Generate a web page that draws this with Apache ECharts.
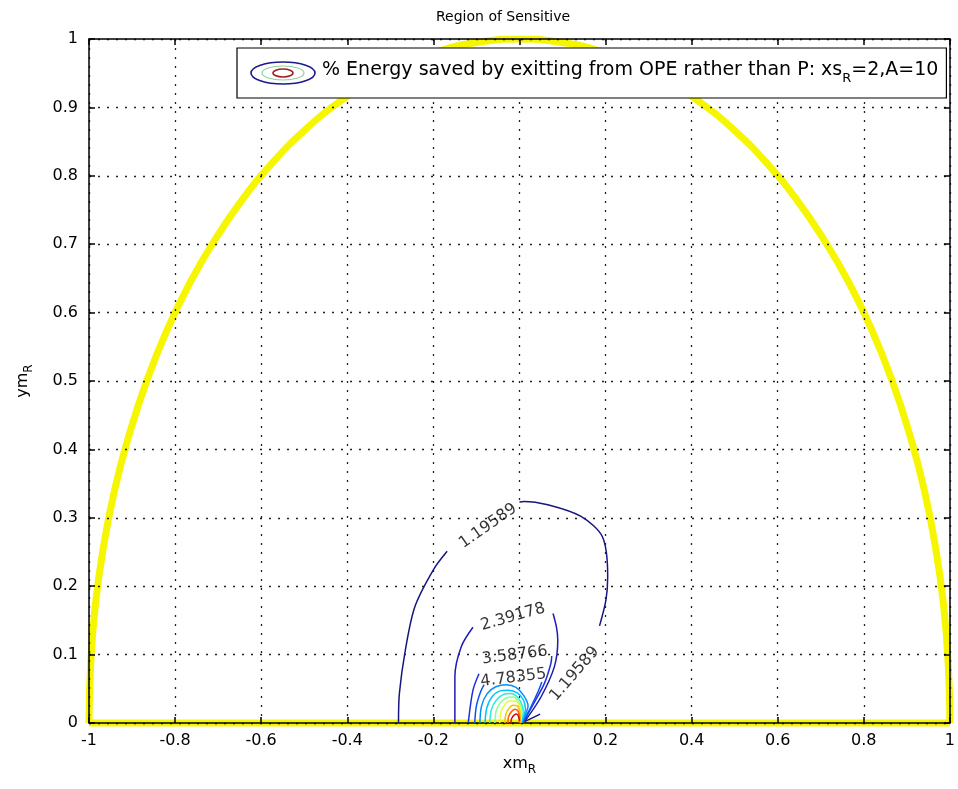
<!DOCTYPE html>
<html><head><meta charset="utf-8">
<script src="https://cdn.jsdelivr.net/npm/echarts@6/dist/echarts.min.js"></script>
<style>html,body{margin:0;padding:0;background:#fff}#c{width:958px;height:789px}</style>
</head><body><div id="c"></div>
<script>
const titleText = 'Region of Sensitive';
const xTickValues = [-1, -0.8, -0.6, -0.4, -0.2, 0, 0.2, 0.4, 0.6, 0.8, 1];
const yTickValues = [0, 0.1, 0.2, 0.3, 0.4, 0.5, 0.6, 0.7, 0.8, 0.9, 1];

// yellow boundary of the region
const boundaryArc = [[-1,0],[-0.996,0.087],[-0.985,0.174],[-0.966,0.259],[-0.940,0.342],[-0.906,0.423],[-0.866,0.5],[-0.819,0.574],[-0.766,0.643],[-0.707,0.707],[-0.643,0.766],[-0.574,0.819],[-0.5,0.866],[-0.423,0.906],[-0.342,0.940],[-0.259,0.966],[-0.174,0.985],[-0.087,0.996],[0,1],[0.087,0.996],[0.174,0.985],[0.259,0.966],[0.342,0.940],[0.423,0.906],[0.5,0.866],[0.574,0.819],[0.643,0.766],[0.707,0.707],[0.766,0.643],[0.819,0.574],[0.866,0.5],[0.906,0.423],[0.940,0.342],[0.966,0.259],[0.985,0.174],[0.996,0.087],[1,0]];
const boundaryBase = [[-1,0],[1,0]];

// contour levels
const contourLevels = [1.19589, 2.39178, 3.58766, 4.78355, 5.97944, 7.17533, 8.37122, 9.56711, 10.763, 11.9589, 13.1548, 14.3507];
const contourColors = ['#16167f','#1c1cb0','#2030d8','#0a55f0','#0090ff','#00c4ff','#30ecd8','#90ff90','#e4ff40','#ffc000','#ff6000','#d81000'];

// contour segments for each level (gaps where labels sit)
const contour1 = [
  [[-0.281,0.0],[-0.279,0.043],[-0.265,0.107],[-0.243,0.170],[-0.200,0.224],[-0.168,0.251]],
  [[0.000,0.323],[0.010,0.324],[0.066,0.319],[0.143,0.302],[0.193,0.272],[0.205,0.214],[0.201,0.180],[0.186,0.142]],
  [[0.048,0.013],[0.012,0.002]]
];
const contour2 = [
  [[-0.150,0.0],[-0.150,0.068],[-0.135,0.112],[-0.108,0.140]],
  [[0.078,0.160],[0.086,0.140],[0.089,0.121],[0.081,0.082],[0.050,0.038],[0.012,0.002]]
];
const contour3 = [
  [[-0.119,0.0],[-0.108,0.048],[-0.094,0.072]],
  [[0.075,0.098],[0.073,0.087],[0.058,0.058],[0.030,0.025],[0.010,0.002]]
];
const contour4 = [
  [[-0.104,0.0],[-0.100,0.025],[-0.090,0.046],[-0.082,0.056]],
  [[0.052,0.060],[0.042,0.044],[0.024,0.020],[0.008,0.002]]
];
const contour5 = [[[-0.092,0.0],[-0.088,0.025],[-0.075,0.043],[-0.055,0.053],[-0.030,0.056],[-0.008,0.052],[0.010,0.040],[0.020,0.025],[0.012,0.010],[0.006,0.0]]];
const contour6 = [[[-0.080,0.0],[-0.076,0.022],[-0.064,0.038],[-0.045,0.047],[-0.025,0.048],[-0.005,0.044],[0.009,0.034],[0.014,0.020],[0.007,0.006],[0.004,0.0]]];
const contour7 = [[[-0.069,0.0],[-0.065,0.020],[-0.053,0.034],[-0.036,0.042],[-0.020,0.043],[-0.005,0.038],[0.005,0.028],[0.009,0.016],[0.004,0.004],[0.002,0.0]]];
const contour8 = [[[-0.057,0.0],[-0.054,0.018],[-0.044,0.030],[-0.030,0.037],[-0.015,0.038],[-0.003,0.032],[0.004,0.022],[0.005,0.010],[0.002,0.0]]];
const contour9 = [[[-0.046,0.0],[-0.043,0.016],[-0.035,0.026],[-0.022,0.032],[-0.010,0.032],[0.000,0.025],[0.003,0.014],[0.002,0.0]]];
const contour10 = [[[-0.034,0.0],[-0.032,0.012],[-0.025,0.021],[-0.015,0.026],[-0.005,0.025],[0.001,0.016],[0.002,0.006],[0.001,0.0]]];
const contour11 = [[[-0.027,0.0],[-0.025,0.010],[-0.018,0.017],[-0.010,0.020],[-0.003,0.017],[0.000,0.008],[0.000,0.0]]];
const contour12 = [[[-0.020,0.0],[-0.018,0.007],[-0.012,0.012],[-0.006,0.013],[-0.002,0.009],[0.000,0.003]]];
const contourSegments = [contour1, contour2, contour3, contour4, contour5, contour6, contour7, contour8, contour9, contour10, contour11, contour12];

// inline contour labels
const labelLevelIndex = [0, 0, 1, 2, 3];
const labelPositions = [[-0.073,0.288],[0.128,0.072],[-0.015,0.155],[-0.011,0.099],[-0.014,0.066]];
const labelAngles = [35, 49, 16, 7, 7];

const legendText = ['% Energy saved by exitting from OPE rather than P: xs', 'R', '=2,A=10'];

const FONT = 'DejaVu Sans';
const iconSvg = "<svg xmlns='http://www.w3.org/2000/svg' width='68' height='26'><ellipse cx='34' cy='13' rx='32' ry='11' fill='none' stroke='#1a1a8c' stroke-width='1.6'/><ellipse cx='34' cy='13' rx='21' ry='7' fill='none' stroke='#8fd0a0' stroke-width='1.2'/><ellipse cx='34' cy='13' rx='10' ry='4' fill='none' stroke='#a02020' stroke-width='1.6'/></svg>";
const iconUrl = 'image://data:image/svg+xml;charset=utf-8,' + encodeURIComponent(iconSvg);

const series = [];
series.push({type:'line', name:'boundary', data: boundaryArc, smooth: true, showSymbol:false, silent:true,
  lineStyle:{color:'#f6f600', width:7}, z:2});
series.push({type:'line', name:'base', data: boundaryBase, showSymbol:false, silent:true, clip:false,
  lineStyle:{color:'#f6f600', width:7}, z:2});
contourSegments.forEach((segs, li) => {
  segs.forEach((seg, si) => {
    series.push({type:'line', name: (li===0 && si===0) ? 'energy' : ('c'+li+'_'+si), data: seg,
      smooth: 0.3, showSymbol:false, silent:true,
      lineStyle:{color: contourColors[li], width:1.5}, itemStyle:{color: contourColors[li]}, z:6});
  });
});
series.push({type:'scatter', name:'labels', silent:true, symbolSize:0, z:7,
  data: labelPositions.map((p, i) => ({value: p, label: {rotate: labelAngles[i]}})),
  label:{show:true, position:'inside', color:'#000', textBorderWidth:0, fontFamily:FONT, fontSize:16,
    formatter: (p) => String(contourLevels[labelLevelIndex[p.dataIndex]])}});

const axisCommon = {
  axisLine:{show:true, onZero:false, lineStyle:{color:'#000', width:1.5}},
  axisTick:{show:true, inside:true, length:6, lineStyle:{color:'#000', width:1.5}},
};

const option = {
  animation:false,
  backgroundColor:'#fff',
  title:{text:titleText, left:431, top:5, textStyle:{fontFamily:FONT, fontSize:14, fontWeight:'normal', color:'#000'}},
  grid:{left:89, right:3, top:39, bottom:66},
  legend:{show:true, left:237, top:48, z:10, selectedMode:false,
    data:[{name:'energy', icon: iconUrl}],
    itemWidth:68, itemHeight:26, padding:[12,8,12,12],
    backgroundColor:'#fff', borderColor:'#000', borderWidth:1.2, borderRadius:0,
    formatter: () => '{t|' + legendText[0] + '}{s|' + legendText[1] + '}{t|' + legendText[2] + '}',
    textStyle:{fontFamily:FONT, fontSize:19, color:'#000',
      rich:{t:{fontFamily:FONT, fontSize:19, color:'#000', verticalAlign:'top', lineHeight:25},
            s:{fontFamily:FONT, fontSize:13, color:'#000', verticalAlign:'bottom', lineHeight:11}}}},
  xAxis:[
    Object.assign({type:'value', min:-1, max:1, interval:0.2, position:'bottom', z:5,
      name:'{a|xm}{s|R}', nameLocation:'middle', nameGap:33,
      nameTextStyle:{fontFamily:FONT, fontSize:16, color:'#000',
        rich:{a:{fontFamily:FONT, fontSize:16, color:'#000', verticalAlign:'top', lineHeight:20},
              s:{fontFamily:FONT, fontSize:12, color:'#000', verticalAlign:'bottom', lineHeight:12}}},
      axisLabel:{show:true, margin:10, fontFamily:FONT, fontSize:16, color:'#000',
        formatter:(v)=>{const t = xTickValues.find(x=>Math.abs(x-v)<1e-9); return t===undefined? '' : String(t);}},
      splitLine:{show:true, lineStyle:{color:'#222', width:1.3, type:[2,7]}}}, axisCommon),
    Object.assign({type:'value', min:-1, max:1, interval:0.2, position:'top', z:5,
      axisLabel:{show:false}, splitLine:{show:false}}, axisCommon)
  ],
  yAxis:[
    Object.assign({type:'value', min:0, max:1, interval:0.1, position:'left', z:5,
      name:'{a|ym}{s|R}', nameLocation:'middle', nameGap:54,
      nameTextStyle:{fontFamily:FONT, fontSize:16, color:'#000',
        rich:{a:{fontFamily:FONT, fontSize:16, color:'#000', verticalAlign:'top', lineHeight:20},
              s:{fontFamily:FONT, fontSize:12, color:'#000', verticalAlign:'bottom', lineHeight:12}}},
      axisLabel:{show:true, margin:11, fontFamily:FONT, fontSize:16, color:'#000',
        formatter:(v)=>{const t = yTickValues.find(y=>Math.abs(y-v)<1e-9); return t===undefined? '' : String(t);}},
      splitLine:{show:true, lineStyle:{color:'#222', width:1.3, type:[2,7]}}}, axisCommon),
    Object.assign({type:'value', min:0, max:1, interval:0.1, position:'right', z:5,
      axisLabel:{show:false}, splitLine:{show:false}}, axisCommon)
  ],
  series: series
};
const chart = echarts.init(document.getElementById('c'), null, {renderer:'canvas'});
chart.setOption(option);
</script></body></html>
